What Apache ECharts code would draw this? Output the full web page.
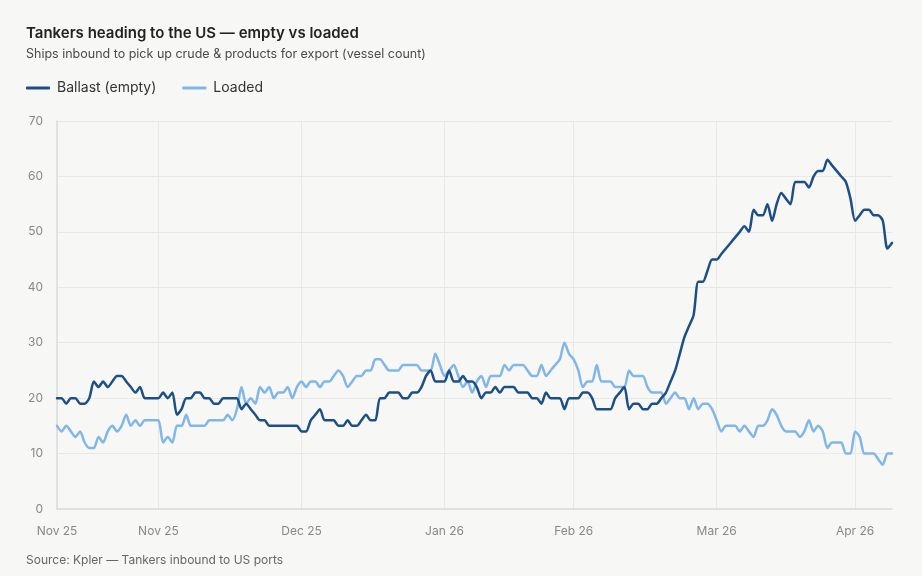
<!DOCTYPE html>
<html>
<head>
<meta charset="utf-8">
<script src="https://cdn.jsdelivr.net/npm/echarts@6/dist/echarts.min.js"></script>
<style>
  html, body { margin: 0; padding: 0; background: #f7f7f5; }
  #chart { width: 922px; height: 576px; }
</style>
</head>
<body>
<div id="chart"></div>
<script>
// daily observations, first day of the series
const startDate = '2025-11-09';

const ballast = [
  20, 20, 19, 20, 20, 19, 19, 20, 23, 22, 23, 22, 23, 24, 24, 23, 22, 21, 22, 20,
  20, 20, 20, 21, 20, 21, 17, 18, 20, 20, 21, 21, 20, 20, 19, 19, 20, 20, 20, 20,
  18, 19, 18, 17, 16, 16, 15, 15, 15, 15, 15, 15, 15, 14, 14, 16, 17, 18, 16, 16,
  16, 15, 15, 16, 15, 15, 16, 17, 16, 16, 20, 20, 21, 21, 21, 20, 20, 21, 21, 22,
  24, 25, 23, 23, 23, 25, 23, 23, 24, 23, 23, 22, 20, 21, 21, 22, 21, 22, 22, 22,
  21, 21, 21, 20, 20, 19, 21, 20, 20, 20, 18, 20, 20, 20, 21, 21, 20, 18, 18, 18,
  18, 20, 21, 22, 18, 19, 19, 18, 18, 19, 19, 20, 21, 23, 25, 28, 31, 33, 35, 41,
  41, 43, 45, 45, 46, 47, 48, 49, 50, 51, 50, 54, 53, 53, 55, 52, 55, 57, 56, 55,
  59, 59, 59, 58, 60, 61, 61, 63, 62, 61, 60, 59, 56, 52, 53, 54, 54, 53, 53, 52,
  47, 48
];

const loaded = [
  15, 14, 15, 14, 13, 14, 12, 11, 11, 13, 12, 14, 15, 14, 15, 17, 15, 16, 15, 16,
  16, 16, 16, 12, 13, 12, 15, 15, 17, 15, 15, 15, 15, 16, 16, 16, 16, 17, 16, 18,
  22, 19, 20, 19, 22, 21, 22, 20, 21, 21, 22, 20, 22, 23, 22, 23, 23, 22, 23, 23,
  24, 25, 24, 22, 23, 24, 24, 25, 25, 27, 27, 26, 25, 25, 25, 26, 26, 26, 26, 25,
  25, 25, 28, 26, 24, 25, 26, 24, 22, 23, 21, 23, 24, 22, 24, 24, 24, 26, 25, 26,
  26, 26, 25, 24, 24, 26, 24, 25, 26, 27, 30, 28, 27, 25, 22, 23, 23, 26, 23, 23,
  23, 22, 22, 22, 25, 24, 24, 24, 22, 21, 21, 21, 19, 20, 21, 20, 20, 18, 20, 18,
  19, 19, 18, 16, 14, 15, 15, 15, 14, 15, 14, 13, 15, 15, 16, 18, 17, 15, 14, 14,
  14, 13, 14, 16, 14, 15, 14, 11, 12, 12, 12, 10, 10, 14, 13, 10, 10, 10, 9, 8,
  10, 10
];

// the labelled ticks and the text the source prints under them
const tickDates = ['2025-11-09', '2025-12-01', '2026-01-01', '2026-02-01', '2026-03-01', '2026-04-01', '2026-05-01'];
const tickLabels = ['Nov 25', 'Nov 25', 'Dec 25', 'Jan 26', 'Feb 26', 'Mar 26', 'Apr 26'];

const yTicks = [0, 10, 20, 30, 40, 50, 60, 70];

function buildDates(start, n) {
  const out = [];
  const d = new Date(start + 'T00:00:00Z');
  for (let i = 0; i < n; i++) {
    out.push(d.toISOString().slice(0, 10));
    d.setUTCDate(d.getUTCDate() + 1);
  }
  return out;
}

const dates = buildDates(startDate, ballast.length);
const isTick = (idx, val) => tickDates.indexOf(val) !== -1;

const chart = echarts.init(document.getElementById('chart'));

chart.setOption({
  backgroundColor: '#f7f7f5',
  animation: false,
  textStyle: { fontFamily: 'Inter, "Noto Sans", sans-serif' },
  title: {
    text: 'Tankers heading to the US \u2014 empty vs loaded',
    subtext: 'Ships inbound to pick up crude & products for export (vessel count)',
    left: 21,
    top: 21,
    itemGap: 7,
    textStyle: { fontSize: 15, fontWeight: 600, color: '#222' },
    subtextStyle: { fontSize: 12.5, color: '#4a4a4a' }
  },
  legend: {
    left: 21,
    top: 76,
    icon: 'roundRect',
    itemWidth: 24,
    itemHeight: 3,
    itemGap: 26,
    textStyle: { fontSize: 14, color: '#333', padding: [0, 0, 0, 2] },
    data: ['Ballast (empty)', 'Loaded']
  },
  graphic: [{
    type: 'text',
    left: 26,
    top: 554,
    style: {
      text: 'Source: Kpler \u2014 Tankers inbound to US ports',
      fill: '#666',
      fontSize: 12,
      fontFamily: 'Inter, "Noto Sans", sans-serif'
    }
  }],
  grid: { left: 57, right: 30, top: 121, bottom: 67 },
  xAxis: {
    type: 'category',
    data: dates,
    boundaryGap: false,
    axisLine: { lineStyle: { color: '#dcdcdc', width: 1.5 } },
    axisTick: { show: false },
    axisLabel: {
      interval: isTick,
      showMinLabel: true,
      color: '#888',
      fontSize: 12,
      margin: 16,
      formatter: (val) => tickLabels[tickDates.indexOf(val)]
    },
    splitLine: {
      show: true,
      interval: isTick,
      lineStyle: { color: '#e8e8e6' }
    }
  },
  yAxis: {
    type: 'value',
    min: yTicks[0],
    max: yTicks[yTicks.length - 1],
    interval: 10,
    axisLine: { show: true, lineStyle: { color: '#dcdcdc', width: 1.5 } },
    axisTick: { show: false },
    axisLabel: { color: '#888', fontSize: 12, margin: 14 },
    splitLine: { lineStyle: { color: '#e8e8e6' } }
  },
  series: [
    {
      name: 'Ballast (empty)',
      type: 'line',
      data: ballast,
      showSymbol: false,
      smooth: 0.25,
      color: '#1c4f86',
      lineStyle: { width: 2.5, join: 'round', cap: 'round' },
      z: 3
    },
    {
      name: 'Loaded',
      type: 'line',
      data: loaded,
      showSymbol: false,
      smooth: 0.25,
      color: '#80b6e8',
      lineStyle: { width: 2.5, join: 'round', cap: 'round' },
      z: 2
    }
  ]
});
</script>
</body>
</html>
